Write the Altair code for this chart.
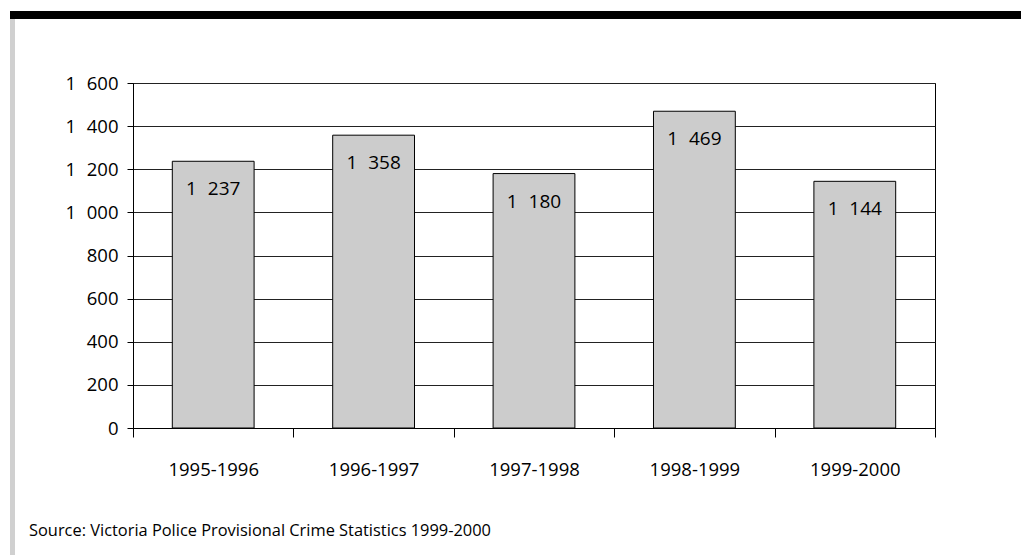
import altair as alt
import pandas as pd

periods = ["1995-1996", "1996-1997", "1997-1998", "1998-1999", "1999-2000"]
values = [1237, 1358, 1180, 1469, 1144]
y_ticks = [0, 200, 400, 600, 800, 1000, 1200, 1400, 1600]
source_text = "Source: Victoria Police Provisional Crime Statistics 1999-2000"

FONT = "Open Sans"
SEP = "\u2007"

df = pd.DataFrame({"period": periods, "value": values})
df["label"] = [f"{v:,}".replace(",", SEP) for v in values]

x_enc = alt.X("period:N", sort=periods, title=None,
              scale=alt.Scale(paddingInner=0, paddingOuter=0),
              axis=alt.Axis(labelAngle=0, tickBand="extent", tickSize=9,
                            tickColor="#000", domainColor="#000",
                            labelFont=FONT, labelFontSize=18.5, labelColor="#000",
                            labelBaseline="middle", labelPadding=32))
y_enc = alt.Y("value:Q", title=None,
              scale=alt.Scale(domain=[0, 1600], nice=False),
              axis=alt.Axis(values=y_ticks, tickSize=6, tickColor="#000",
                            domainColor="#000", gridColor="#222", grid=True,
                            labelFont=FONT, labelFontSize=18.5, labelColor="#000",
                            labelPadding=9,
                            labelExpr=f"replace(format(datum.value, ','), ',', '{SEP}')"))

bars = alt.Chart(df).mark_bar(width=alt.RelativeBandSize(0.51), color="#CCCCCC",
                              stroke="#000", strokeWidth=1).encode(x=x_enc, y=y_enc)

labels = alt.Chart(df).mark_text(font=FONT, fontSize=19, color="#000",
                                 baseline="middle", align="center", dy=28).encode(
    x=alt.X("period:N", sort=periods), y="value:Q", text="label:N")

one = pd.DataFrame({"a": [0]})
top_bar = alt.Chart(one).mark_rect(color="#000").encode(
    x=alt.value(-123), x2=alt.value(888), y=alt.value(-72), y2=alt.value(-64))
left_bar = alt.Chart(one).mark_rect(color="#D0D0D0").encode(
    x=alt.value(-123), x2=alt.value(-118), y=alt.value(-64), y2=alt.value(472))
source = alt.Chart(one).mark_text(font=FONT, fontSize=16.4, color="#000",
                                  align="left", baseline="middle").encode(
    x=alt.value(-104), y=alt.value(448), text=alt.value(source_text))

chart = alt.layer(bars, labels, top_bar, left_bar, source).properties(
    width=802, height=345,
    autosize=alt.AutoSizeParams(type="none"),
    padding={"left": 133, "top": 83, "right": 86, "bottom": 127},
    background="white",
).configure_view(stroke="#000", strokeWidth=1)

chart.save("out.html", embed_options={"renderer": "svg", "actions": False})
